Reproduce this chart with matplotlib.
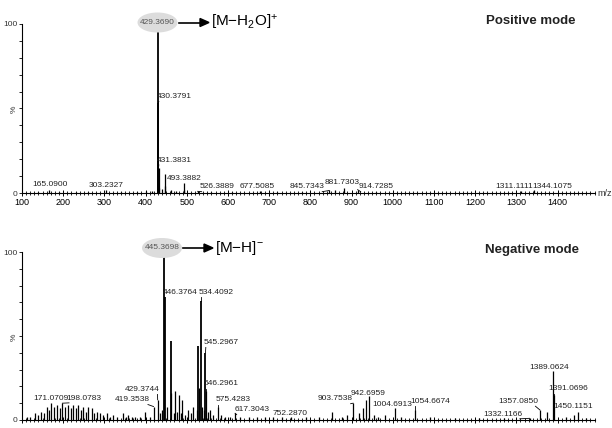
import numpy as np
import matplotlib
matplotlib.use("Agg")
import matplotlib.pyplot as plt
from matplotlib.patches import Ellipse
from matplotlib.ticker import MultipleLocator

plt.rcParams['font.family'] = ['Liberation Sans', 'DejaVu Sans']
plt.rcParams['mathtext.fontset'] = 'custom'
plt.rcParams['mathtext.rm'] = 'Liberation Sans'
plt.rcParams['mathtext.it'] = 'Liberation Sans:italic'

# ---- positive mode spectrum (m/z, relative intensity %)
pos_mz = [140, 165.09, 190, 230, 260, 303.23, 340, 380, 400, 415, 429.369, 430.379, 431.383,
          432.4, 440, 446, 447, 461, 475, 493.388, 494.4, 526.389, 560, 610, 677.51, 720,
          780, 845.73, 859, 881.73, 914.73, 960, 1311.11, 1344.11]
pos_int = [0.6, 2, 0.6, 0.5, 0.6, 1.5, 0.6, 0.8, 1, 1.2, 100, 53, 15,
           3, 2.5, 11, 4, 2, 1, 6, 2, 1, 0.6, 0.6, 1, 0.5,
           0.5, 1.5, 2, 3, 2, 0.5, 1, 1.5]

# labelled peaks: text, peak m/z, peak %, label centre m/z, label centre %
pos_labels = [
    ("165.0900", 165.09, 2, 168, 4.8),
    ("303.2327", 303.23, 1.5, 305, 4.2),
    ("430.3791", 430.379, 53, 469, 57),
    ("431.3831", 431.383, 15, 469, 19.5),
    ("493.3882", 493.388, 6, 493, 8.5),
    ("526.3889", 526.389, 1, 573, 3.6),
    ("677.5085", 677.51, 1, 671, 3.6),
    ("845.7343", 845.73, 1.5, 792, 3.6),
    ("881.7303", 881.73, 3, 878, 6.2),
    ("914.7285", 914.73, 2, 959, 3.6),
    ("1311.1111", 1311.11, 1, 1294, 3.6),
    ("1344.1075", 1344.11, 1.5, 1387, 3.6),
]

# ---- negative mode spectrum
neg_mz = [112, 120, 131, 140, 147, 154, 160, 165, 171.07, 178, 185, 192, 198.08, 205, 212, 218,
          224.5, 231, 237, 243, 249, 255, 261, 269, 275, 281, 289, 297, 306, 314, 322, 330,
          346, 352, 358, 366, 374, 386, 398.5, 410, 419.35, 429.37, 435, 440, 445.37, 446.38,
          453, 461, 462.5, 468, 471, 476, 480, 486, 489, 495, 503, 510, 516, 524, 527, 530,
          534.41, 537, 541, 545.30, 546.30, 551, 556, 563, 575.43, 583, 593, 605, 617.30, 630,
          650, 670, 690, 710, 730, 752.29, 790, 820, 852, 876, 888, 903.75, 918, 928, 936,
          942.70, 955, 965, 980, 1004.69, 1020, 1054.67, 1090, 1150, 1210, 1270, 1332.12,
          1357.09, 1375, 1389.06, 1391.07, 1420, 1440, 1450.12, 1470]
neg_int = [1.5, 2, 4, 3, 5, 4, 8, 6, 10, 8, 9, 7, 10, 8, 9, 7,
           9, 7, 9, 6, 8, 5, 8, 7, 4, 5, 4, 3, 4, 2, 3, 2,
           4, 2, 3, 2, 2, 2, 5, 2, 8, 12, 4, 6, 100, 73,
           8, 47, 16, 4, 17, 5, 15, 4, 12, 3, 6, 4, 8, 6, 44, 19,
           71, 8, 6, 40, 17, 5, 6, 3, 8, 3, 2, 2, 4, 2,
           2, 2, 2, 2, 1.5, 2, 1.5, 1.5, 5, 2, 3, 10, 4, 7, 12,
           14, 3, 2, 3, 7, 2, 6, 2, 1, 1, 1, 1,
           6, 5, 29, 15, 2, 3, 5, 1]

neg_labels = [
    ("171.0709", 171.07, 10, 171, 13),
    ("198.0783", 198.08, 10, 251, 13),
    ("419.3538", 419.35, 8, 369, 12),
    ("429.3744", 429.37, 12, 392, 18),
    ("446.3764", 446.38, 73, 483, 76),
    ("534.4092", 534.41, 71, 571, 76),
    ("545.2967", 545.30, 40, 583, 46),
    ("546.2961", 546.30, 17, 583, 21.5),
    ("575.4283", 575.43, 8, 612, 12),
    ("617.3043", 617.30, 4, 658, 6),
    ("752.2870", 752.29, 2, 750, 4),
    ("903.7538", 903.75, 10, 861, 12.5),
    ("942.6959", 942.70, 14, 939, 15.5),
    ("1004.6913", 1004.69, 7, 999, 9.5),
    ("1054.6674", 1054.67, 6, 1090, 11),
    ("1332.1166", 1332.12, 1, 1267, 3.5),
    ("1357.0850", 1357.09, 6, 1305, 11),
    ("1389.0624", 1389.06, 29, 1380, 31),
    ("1391.0696", 1391.07, 15, 1425, 18.5),
    ("1450.1151", 1450.12, 5, 1439, 8),
]

W, H = 612, 428
fig = plt.figure(figsize=(W / 100, H / 100), dpi=100)

ax1 = fig.add_axes([22 / W, 0.549, 573 / W, 0.395])
ax2 = fig.add_axes([22 / W, 0.0187, 573 / W, 0.3925])


def style(ax, xlabels):
    ax.set_xlim(100, 1491)
    ax.set_ylim(0, 100)
    for s in ['top', 'right']:
        ax.spines[s].set_visible(False)
    ax.spines['left'].set_linewidth(0.8)
    ax.spines['bottom'].set_linewidth(0.8)
    ax.xaxis.set_major_locator(MultipleLocator(100))
    ax.xaxis.set_minor_locator(MultipleLocator(10))
    ax.tick_params(axis='x', which='major', direction='inout', length=5, width=0.7,
                   labelsize=6.5, pad=1)
    ax.tick_params(axis='x', which='minor', direction='inout', length=2.5, width=0.6)
    if not xlabels:
        ax.tick_params(axis='x', which='major', labelbottom=False)
    ax.set_yticks([0, 50, 100])
    ax.set_yticklabels(['0', '%', '100'])
    ax.get_yticklabels()[1].set_rotation(90)
    ax.yaxis.set_minor_locator(MultipleLocator(10))
    ax.tick_params(axis='y', which='major', direction='out', length=2, width=0.6,
                   labelsize=6, pad=1)
    ax.tick_params(axis='y', which='minor', direction='out', length=2, width=0.6)
    for lab in ax.get_yticklabels():
        lab.set_color('#333333')


def spectrum(ax, mz, inten, labels):
    mz = np.array(mz)
    inten = np.array(inten)
    lw = np.where(inten > 30, 1.3, 0.9)
    ax.vlines(mz, 0, inten, colors='black', linewidth=lw, zorder=3)
    for text, pm, pi, lx, ly in labels:
        half = 4.6 * len(text)
        ax.text(lx, ly, text, fontsize=6, ha='center', va='center', color='#222222', zorder=4)
        tx = min(max(pm, lx - half), lx + half)
        ty = ly - 2.8
        if abs(tx - pm) > 3 or ty - pi > 0.5:
            ax.plot([pm, tx], [pi, ty], color='black', lw=0.6, zorder=3)


style(ax1, True)
style(ax2, False)
spectrum(ax1, pos_mz, pos_int, pos_labels)
spectrum(ax2, neg_mz, neg_int, neg_labels)

ax1.text(1497, 0, 'm/z', fontsize=6.5, ha='left', va='center', color='#333333',
         clip_on=False)

# base peak highlights and ion annotations
def px(x, y):
    return x / W, 1 - y / H

for cx, cy, txt, ion, x0, x1 in [
        (157.5, 22.5, '429.3690', r'[M$-$H$_2$O]$^{+}$', 179, 209),
        (162.0, 248.0, '445.3698', r'[M$-$H]$^{-}$', 183, 213)]:
    fig.patches.append(Ellipse(px(cx, cy), 40 / W, 20 / H, transform=fig.transFigure,
                               facecolor='#dcdcdc', edgecolor='none', zorder=5))
    fig.text(*px(cx, cy), txt, fontsize=6, ha='center', va='center', color='#555555',
             zorder=6)
    fig.add_artist(plt.Line2D([x0 / W, (x1 - 8) / W], [1 - cy / H] * 2, color='black',
                              lw=1.2, transform=fig.transFigure))
    fig.patches.append(matplotlib.patches.FancyArrow(
        (x1 - 9) / W, 1 - cy / H, 9 / W, 0, width=0, head_width=8 / H, head_length=9 / W,
        length_includes_head=True, transform=fig.transFigure, color='black'))
    fig.text((x1 + 2) / W, 1 - cy / H, ion, fontsize=11, ha='left', va='center')

fig.text(px(531, 21)[0], px(531, 21)[1], 'Positive mode', fontsize=9.5, fontweight='bold',
         ha='center', va='center', color='#222222')
fig.text(px(532, 250)[0], px(532, 250)[1], 'Negative mode', fontsize=9.5, fontweight='bold',
         ha='center', va='center', color='#222222')

fig.savefig('out.png', dpi=100)
